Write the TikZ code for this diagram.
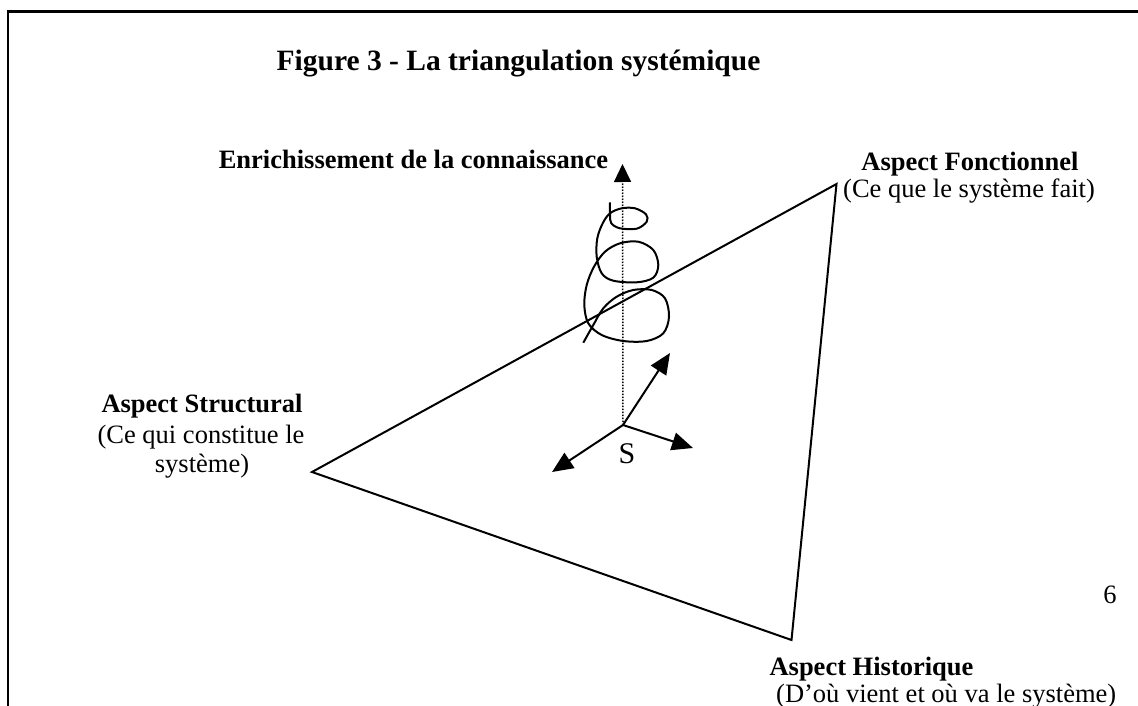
\documentclass[tikz,border=0pt]{standalone}
\usepackage{fontspec}
\setmainfont{Liberation Serif}
\usetikzlibrary{arrows.meta}
\begin{document}
\begin{tikzpicture}[x=1pt,y=-1pt,
  lbl/.style={inner sep=0pt, font=\fontsize{26.5}{30}\selectfont, anchor=base},
  blbl/.style={lbl, font=\fontsize{26.5}{30}\selectfont\bfseries},
  edge/.style={line width=2pt, line join=miter},
  arr/.style={line width=2pt, -{Triangle[length=21pt,width=18pt]}},
  axis/.style={line width=1.5pt, dash pattern=on 1.5pt off 1.5pt, -{Triangle[length=18pt,width=17pt]}},
  spiral/.style={line width=2pt}]
\useasboundingbox (0,0) rectangle (1138,706);
\draw[line width=2.2pt] (8,706) -- (8,11.5) -- (1138,11.5);

% texts
\node[blbl, font=\fontsize{29.5}{32}\selectfont\bfseries] (title) at (518.5,71) {Figure 3 - La triangulation systémique};
\node[blbl] (enr) at (413.5,168) {Enrichissement de la connaissance};
\node[blbl] (fonc) at (970,171) {Aspect Fonctionnel};
\node[lbl] (foncd) at (969,197) {(Ce que le système fait)};
\node[blbl] (struc) at (202,412) {Aspect Structural};
\node[lbl] (strucd1) at (201,443) {(Ce qui constitue le};
\node[lbl] (strucd2) at (202,472) {système)};
\node[lbl, font=\fontsize{30}{32}\selectfont] (s) at (627,463) {S};
\node[lbl] (six) at (1110,603) {6};
\node[blbl] (hist) at (871.5,675) {Aspect Historique};
\node[lbl, anchor=base west] (histd) at (776,702) {(D’où vient et où va le système)};

% triangle
\coordinate (A) at (312,472);
\coordinate (B) at (836.5,184);
\coordinate (C) at (791.5,640);
\draw[edge] (A) -- (B) -- (C) -- cycle;

% axes
\coordinate (O) at (623,425);
\coordinate (Top) at (622.5,164);
\coordinate (UR) at (670,353);
\coordinate (R) at (693,448);
\coordinate (DL) at (552,472);
\draw[axis] (O) -- (Top);
\draw[arr] (O) -- (UR);
\draw[arr] (O) -- (R);
\draw[arr] (O) -- (DL);

% spiral
\draw[spiral] plot[smooth, tension=0.55] coordinates {
 (610,202.3) (610,215) (611.3,223.3) (620,228.3) (636.7,228.7) (646.7,221.7)
 (646,214.3) (635,208.3) (621.7,208.3) (610,213.3) (602.7,223.3) (597.3,238.3)
 (596.7,256.7) (601.7,273.3) (613.3,280.7) (636.7,282.3) (653.3,277.7) (658.3,265)
 (653.3,250) (638.3,241.7) (620,243.3) (605,251.7) (594,266.7) (586.7,285)
 (584.3,305) (588.3,323.3) (601.7,335) (623.3,341) (646.7,341) (663.3,333.3)
 (669,316.7) (665,298.3) (651.7,290) (633.3,290) (616.7,296.7) (603.3,308.3)
 (593.3,325) (583.3,342.7)};
\end{tikzpicture}
\end{document}
